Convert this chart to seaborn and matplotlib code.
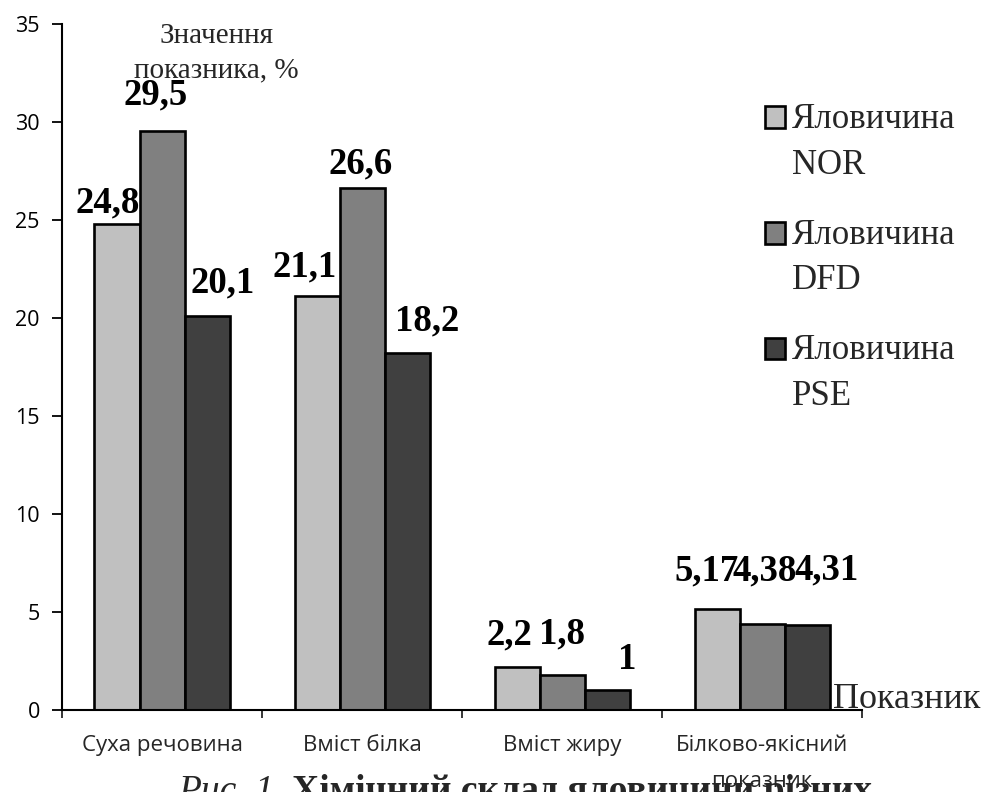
import numpy as np
import pandas as pd
import matplotlib
matplotlib.use("Agg")
import matplotlib.pyplot as plt
from matplotlib.patches import Patch, Rectangle
from matplotlib.legend_handler import HandlerPatch
import seaborn as sns

# ---------------- data ----------------
categories = ["Суха речовина", "Вміст білка", "Вміст жиру", "Білково-якісний\nпоказник"]
groups = ["Яловичина\nNOR", "Яловичина\nDFD", "Яловичина\nPSE"]
nor_values = [24.8, 21.1, 2.2, 5.17]
dfd_values = [29.5, 26.6, 1.8, 4.38]
pse_values = [20.1, 18.2, 1.0, 4.31]
y_ticks = [0, 5, 10, 15, 20, 25, 30, 35]
y_label = "Значення\nпоказника, %"
x_label = "Показник"
caption_italic = "Рис. 1."
caption_bold = "Хімічний склад яловичини різних"

colors = ["#c0c0c0", "#808080", "#404040"]

# label offsets (pixels) relative to bar top-centre
label_dx = [[-9, -12, -8, -10], [-6, -1, 0, 3], [16, 20, 20, 20]]
label_dy = [[11, 20, 22, 28], [27, 15, 31, 44], [23, 23, 21, 46]]

rows = []
for g, vals in zip(groups, [nor_values, dfd_values, pse_values]):
    for c, v in zip(categories, vals):
        rows.append({"category": c, "group": g, "value": v})
df = pd.DataFrame(rows)

sns.set_theme(style="ticks")
plt.rcParams["font.family"] = ["Liberation Serif", "DejaVu Serif"]

W, H = 988, 792
fig = plt.figure(figsize=(W / 100, H / 100), dpi=100)
ax = fig.add_axes([62 / W, 82 / H, 800 / W, 686.5 / H])

sns.barplot(data=df, x="category", y="value", hue="group", order=categories,
            hue_order=groups, palette=dict(zip(groups, colors)), width=0.675,
            gap=0, errorbar=None, edgecolor="black", linewidth=1.9,
            legend=False, ax=ax, saturation=1)

ax.set_xlim(-0.5, 3.5)
ax.set_ylim(0, 35)
ax.set_yticks(y_ticks)
ax.set_yticklabels([str(t) for t in y_ticks], fontfamily="Open Sans", fontsize=15.5)
ax.tick_params(axis="y", direction="out", length=7, width=1.3, pad=9, colors="black")

ax.set_xticks(np.arange(len(categories) + 1) - 0.5)
ax.set_xticklabels([])
ax.tick_params(axis="x", which="major", direction="out", length=6, width=1.3)
ax.set_xticks(np.arange(len(categories)), minor=True)
ax.set_xticklabels(categories, minor=True, fontfamily="Open Sans", fontsize=16,
                   linespacing=1.95, va="top")
ax.tick_params(axis="x", which="minor", length=0, pad=18)
ax.set_xlabel("")
ax.set_ylabel("")
ax.grid(False)

for s in ["top", "right"]:
    ax.spines[s].set_visible(False)
for s in ["left", "bottom"]:
    ax.spines[s].set_linewidth(1.5)
    ax.spines[s].set_color("black")

# data labels
for gi, cont in enumerate(ax.containers):
    for bi, bar in enumerate(cont):
        v = bar.get_height()
        txt = f"{v:g}".replace(".", ",")
        ax.annotate(txt, xy=(bar.get_x() + bar.get_width() / 2, v),
                    xytext=(label_dx[gi][bi], label_dy[gi][bi]),
                    textcoords="offset pixels", ha="center", va="baseline",
                    fontsize=26.5, fontweight="bold", color="black")

# legend
class FirstLineHandler(HandlerPatch):
    def __init__(self, shift, **kw):
        super().__init__(**kw)
        self.shift = shift

    def create_artists(self, legend, orig_handle, xdescent, ydescent, width,
                       height, fontsize, trans):
        p = Rectangle(xy=(-xdescent, -ydescent + self.shift), width=width, height=height)
        self.update_prop(p, orig_handle, legend)
        p.set_transform(trans)
        return [p]

handles = [Patch(facecolor=c, edgecolor="black", linewidth=1.9) for c in colors]
leg = fig.legend(handles, groups, loc="upper left",
                 bbox_to_anchor=(765 / W, 1 - 103 / H), bbox_transform=fig.transFigure,
                 frameon=False, fontsize=25, handlelength=0.58, handleheight=0.58,
                 handletextpad=0.2, labelspacing=1.07, borderpad=0, borderaxespad=0,
                 handler_map={Patch: FirstLineHandler(18.2)})
for t in leg.get_texts():
    t.set_linespacing(1.5)

# axis titles
fig.text(216 / W, 1 - 23 / H, y_label, ha="center", va="top", fontsize=21,
         linespacing=1.4, multialignment="center")
fig.text(833 / W, 1 - 708 / H, x_label, ha="left", va="baseline", fontsize=26)

# caption (partially cut at bottom)
t1 = fig.text(178 / W, 1 - 801 / H, caption_italic, ha="left", va="baseline",
              fontsize=27, fontstyle="italic")
fig.canvas.draw()
bb = t1.get_window_extent()
fig.text((bb.x1 + 9) / W, 1 - 801 / H, caption_bold, ha="left", va="baseline",
         fontsize=27, fontweight="bold")

fig.savefig("out.png", dpi=100)
